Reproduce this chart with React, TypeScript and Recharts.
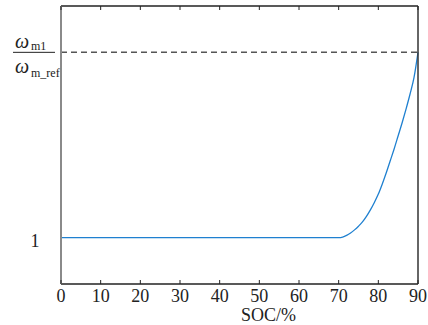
import React from 'react';
import { LineChart, Line, XAxis, YAxis, ReferenceLine } from 'recharts';

// SOC (%) and normalized speed omega_m1 / omega_m_ref
const socValues = [0, 10, 20, 30, 40, 50, 60, 70, 71, 72, 73, 74, 75, 76, 77, 78, 79, 80, 81, 82, 83, 84, 85, 86, 87, 88, 89, 90];
const ratioValues = [1, 1, 1, 1, 1, 1, 1, 1, 1.003, 1.012, 1.025, 1.042, 1.062, 1.085, 1.115, 1.15, 1.19, 1.235, 1.29, 1.35, 1.415, 1.48, 1.55, 1.62, 1.695, 1.775, 1.865, 2.0];
const xTicks = [0, 10, 20, 30, 40, 50, 60, 70, 80, 90];
const yTicks = [1, 2];
const refRatio = 2;

const data = socValues.map((soc, i) => ({ soc, ratio: ratioValues[i] }));

const FONT = '"Liberation Serif", "DejaVu Serif", serif';

const BottomTick = (props: any) => {
  const { x, y, payload } = props;
  return (
    <g>
      <line x1={x} x2={x} y1={y} y2={y - 4} stroke="#222" strokeWidth={1} />
      <text x={x} y={y + 18} textAnchor="middle" fontFamily={FONT} fontSize={18} fill="#222">
        {payload.value}
      </text>
    </g>
  );
};

const TopTick = (props: any) => {
  const { x, y } = props;
  return <line x1={x} x2={x} y1={y} y2={y + 4} stroke="#222" strokeWidth={1} />;
};

const LeftTick = (props: any) => {
  const { y, payload } = props;
  if (payload.value === 1) {
    return (
      <text x={35} y={y + 9} textAnchor="middle" fontFamily={FONT} fontSize={18} fill="#222">
        1
      </text>
    );
  }
  return (
    <g fontFamily={FONT} fill="#222">
      <text x={15} y={y - 4} fontSize={20} fontStyle="italic">ω</text>
      <text x={31} y={y - 2} fontSize={12}>m1</text>
      <line x1={13} x2={55} y1={y} y2={y} stroke="#222" strokeWidth={1} />
      <text x={15} y={y + 21} fontSize={20} fontStyle="italic">ω</text>
      <text x={31} y={y + 25} fontSize={12}>m_ref</text>
    </g>
  );
};

export default function App() {
  return (
    <div style={{ position: 'absolute', left: 0, top: 0 }}>
      <LineChart width={428} height={325} data={data} margin={{ top: 5, right: 9, left: 0, bottom: 0 }}>
        <XAxis
          dataKey="soc"
          type="number"
          domain={[0, 90]}
          ticks={xTicks}
          height={41}
          tickSize={0}
          tickMargin={0}
          tickLine={false}
          tick={<BottomTick />}
          axisLine={{ stroke: '#222', strokeWidth: 1.5 }}
          label={{ value: 'SOC/%', position: 'insideBottom', offset: 4, dx: 29, fontFamily: FONT, fontSize: 18, fill: '#222' }}
        />
        <XAxis
          xAxisId="top"
          orientation="top"
          dataKey="soc"
          type="number"
          domain={[0, 90]}
          ticks={xTicks}
          height={1}
          tickSize={0}
          tickMargin={0}
          tickLine={false}
          tick={<TopTick />}
          axisLine={{ stroke: '#222', strokeWidth: 1.5 }}
        />
        <YAxis
          type="number"
          domain={[0.75, 2.25]}
          ticks={yTicks}
          width={61}
          tickSize={0}
          tickMargin={0}
          tickLine={false}
          tick={<LeftTick />}
          axisLine={{ stroke: '#8a8a8a', strokeWidth: 2 }}
        />
        <YAxis
          yAxisId="right"
          orientation="right"
          type="number"
          domain={[0.75, 2.25]}
          width={1}
          tick={false}
          tickLine={false}
          axisLine={{ stroke: '#333', strokeWidth: 1.5 }}
        />
        <ReferenceLine y={refRatio} stroke="#555" strokeWidth={1.5} strokeDasharray="6 4" />
        <Line
          type="monotone"
          dataKey="ratio"
          stroke="#1f80d0"
          strokeWidth={1.3}
          dot={false}
          isAnimationActive={false}
        />
        <Line
          xAxisId="top"
          yAxisId="right"
          type="monotone"
          dataKey="ratio"
          stroke="none"
          dot={false}
          legendType="none"
          isAnimationActive={false}
        />
      </LineChart>
    </div>
  );
}
